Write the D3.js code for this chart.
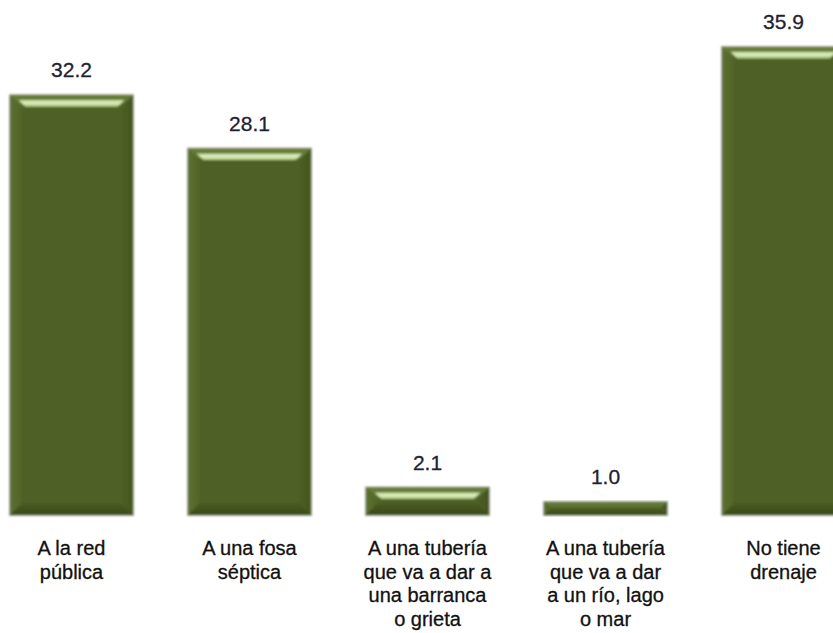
<!DOCTYPE html>
<html>
<head>
<meta charset="utf-8">
<script src="https://cdn.jsdelivr.net/npm/d3@7"></script>
<style>
  html, body { margin: 0; padding: 0; background: #ffffff; }
  svg { display: block; }
</style>
</head>
<body>
<svg id="chart" width="833" height="633"></svg>
<script>
// Viviendas según destino del drenaje (porcentaje)
const categories = [
  ["A la red", "pública"],
  ["A una fosa", "séptica"],
  ["A una tubería", "que va a dar a", "una barranca", "o grieta"],
  ["A una tubería", "que va a dar", "a un río, lago", "o mar"],
  ["No tiene", "drenaje"]
];
const values = [32.2, 28.1, 2.1, 1.0, 35.9];
const valueLabels = ["32.2", "28.1", "2.1", "1.0", "35.9"];

const svg = d3.select("#chart");
const baseY = 515;
const topY = 47;

const x = d3.scaleBand()
  .domain(d3.range(values.length))
  .range([10, 845])
  .paddingInner(0.309)
  .paddingOuter(0);

const y = d3.scaleLinear()
  .domain([0, 35.9])
  .range([baseY, topY]);

const defs = svg.append("defs");
const blur = defs.append("filter").attr("id", "soft")
  .attr("x", "-5%").attr("y", "-5%").attr("width", "110%").attr("height", "110%");
blur.append("feGaussianBlur").attr("stdDeviation", 0.8);

function vGrad(id, stops) {
  const gr = defs.append("linearGradient").attr("id", id)
    .attr("x1", 0).attr("y1", 0).attr("x2", 0).attr("y2", 1);
  stops.forEach(([o, c]) => gr.append("stop").attr("offset", o).attr("stop-color", c));
}
function hGrad(id, stops) {
  const gr = defs.append("linearGradient").attr("id", id)
    .attr("x1", 0).attr("y1", 0).attr("x2", 1).attr("y2", 0);
  stops.forEach(([o, c]) => gr.append("stop").attr("offset", o).attr("stop-color", c));
}
vGrad("topGrad", [["0%", "#6a7f3b"], ["100%", "#55692b"]]);
vGrad("botGrad", [["0%", "#4a5c22"], ["100%", "#3b4919"]]);
hGrad("leftGrad", [["0%", "#5d7131"], ["100%", "#516428"]]);
hGrad("rightGrad", [["0%", "#4d5f24"], ["100%", "#44551d"]]);
vGrad("shine", [["0%", "#b9d58e"], ["45%", "#e2f0c6"], ["100%", "#9ebd6c"]]);

const g = svg.append("g");
const font = "Liberation Sans, Arial, sans-serif";

values.forEach((v, i) => {
  const x0 = x(i);
  const w = x.bandwidth();
  const y0 = y(v);
  const h = baseY - y0;
  const b = Math.min(12, h / 2);
  const bar = g.append("g").attr("filter", "url(#soft)");

  // outer soft edge
  bar.append("rect")
    .attr("x", x0 - 1).attr("y", y0 - 1)
    .attr("width", w + 2).attr("height", h + 2)
    .attr("fill", "#a3a896");
  // body
  bar.append("rect")
    .attr("x", x0).attr("y", y0)
    .attr("width", w).attr("height", h)
    .attr("fill", "#4f6127");
  // top bevel
  bar.append("polygon")
    .attr("points", [[x0, y0], [x0 + w, y0], [x0 + w - b, y0 + b], [x0 + b, y0 + b]].join(" "))
    .attr("fill", "url(#topGrad)");
  // left bevel
  bar.append("polygon")
    .attr("points", [[x0, y0], [x0 + b, y0 + b], [x0 + b, baseY - b], [x0, baseY]].join(" "))
    .attr("fill", "url(#leftGrad)");
  // right bevel
  bar.append("polygon")
    .attr("points", [[x0 + w, y0], [x0 + w - b, y0 + b], [x0 + w - b, baseY - b], [x0 + w, baseY]].join(" "))
    .attr("fill", "url(#rightGrad)");
  // bottom bevel
  bar.append("polygon")
    .attr("points", [[x0, baseY], [x0 + b, baseY - b], [x0 + w - b, baseY - b], [x0 + w, baseY]].join(" "))
    .attr("fill", "url(#botGrad)");
  // highlight stripe along the top bevel
  if (h > 20) {
    const s0 = y0 + b * 0.4, s1 = y0 + b * 0.95;
    bar.append("polygon")
      .attr("points", [
        [x0 + b * 0.7, s0], [x0 + w - b * 0.7, s0],
        [x0 + w - b * 1.3, s1], [x0 + b * 1.3, s1]
      ].join(" "))
      .attr("fill", "url(#shine)");
  }

  // value label
  svg.append("text")
    .attr("x", x0 + w / 2)
    .attr("y", y0 - 18)
    .attr("text-anchor", "middle")
    .attr("font-family", font)
    .attr("font-size", 21)
    .attr("fill", "#1f2233")
    .attr("stroke", "#1f2233")
    .attr("stroke-width", 0.3)
    .text(valueLabels[i]);

  // category label
  const t = svg.append("text")
    .attr("text-anchor", "middle")
    .attr("font-family", font)
    .attr("font-size", 20)
    .attr("fill", "#111111")
    .attr("stroke", "#111111")
    .attr("stroke-width", 0.3);
  categories[i].forEach((line, k) => {
    t.append("tspan")
      .attr("x", x0 + w / 2)
      .attr("y", 555 + k * 23.5)
      .text(line);
  });
});
</script>
</body>
</html>
